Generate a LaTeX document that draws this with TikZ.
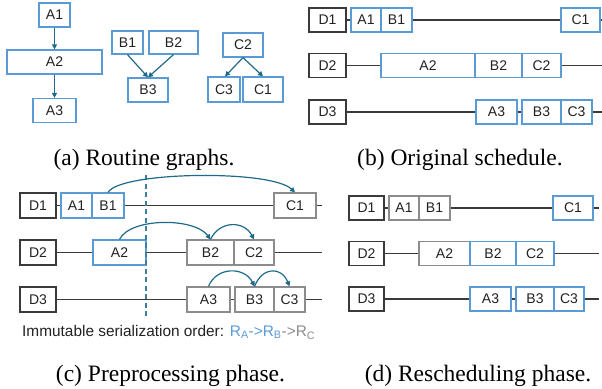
\documentclass[tikz,border=0pt]{standalone}
\usepackage{fontspec}
\setmainfont{Liberation Serif}
\setsansfont{Liberation Sans}
\usetikzlibrary{arrows.meta}
\definecolor{boxblue}{HTML}{5B9BD5}
\definecolor{boxgray}{HTML}{8C8C8C}
\definecolor{boxdark}{HTML}{3A3A3A}
\definecolor{txt}{HTML}{222222}
\definecolor{arrowteal}{HTML}{1F6A8A}
\definecolor{cutline}{HTML}{3C7E9C}
\tikzset{
  task/.style={draw, line width=1.2pt, inner sep=0pt, minimum height=24pt,
    font=\sffamily\fontsize{14}{14}\selectfont, text=txt},
  bluebox/.style={task, draw=boxblue},
  graybox/.style={task, draw=boxgray},
  devbox/.style={task, draw=boxdark},
  timeline/.style={draw=boxdark, line width=1.2pt},
  dep/.style={draw=arrowteal, line width=1.2pt, -{Triangle[length=5pt,width=5pt]}},
  caption/.style={font=\fontsize{23.5}{24}\selectfont, anchor=base, inner sep=0pt},
}
\begin{document}
\begin{tikzpicture}[x=1pt, y=-1pt]
\useasboundingbox (0,0) rectangle (602,388);

% ---------- (a) routine graphs ----------
\node[bluebox, minimum width=31pt] (ga1) at (54.5,15) {A1};
\node[bluebox, minimum width=95pt] (ga2) at (54.5,62) {A2};
\node[bluebox, minimum width=43pt] (ga3) at (54.5,110.5) {A3};
\draw[dep] (ga1) -- (ga2);
\draw[dep] (ga2) -- (ga3);

\node[bluebox, minimum width=31pt, minimum height=23pt] (gb1) at (127.5,42.5) {B1};
\node[bluebox, minimum width=49pt, minimum height=23pt] (gb2) at (173.5,42.5) {B2};
\node[bluebox, minimum width=40pt] (gb3) at (148,90) {B3};
\draw[dep] (gb1.south) -- (gb3.north);
\draw[dep] (gb2.south) -- (gb3.north);

\node[bluebox, minimum width=40pt] (gc2) at (243,45) {C2};
\node[bluebox, minimum width=32pt, minimum height=25pt] (gc3) at (224,89.5) {C3};
\node[bluebox, minimum width=40pt, minimum height=25pt] (gc1) at (263,89.5) {C1};
\draw[dep] (gc2.south) -- ([xshift=1pt]gc3.north);
\draw[dep] (gc2.south) -- (gc1.north);

\node[caption] (capa) at (144,165) {(a) Routine graphs.};

% ---------- (b) original schedule ----------
\node[devbox, minimum width=37pt] (bd1) at (327.5,20) {D1};
\node[bluebox, minimum width=30pt] (ba1) at (366,20) {A1};
\node[bluebox, minimum width=31pt] (bb1) at (396.5,20) {B1};
\node[bluebox, minimum width=39pt] (bc1) at (580.5,20) {C1};
\coordinate (bend1) at (603,20);
\draw[timeline] (bd1) -- (ba1);
\draw[timeline] (bb1) -- (bc1);
\draw[timeline] (bc1) -- (bend1);

\node[devbox, minimum width=37pt] (bd2) at (327.5,65.5) {D2};
\node[bluebox, minimum width=94pt] (ba2) at (428,65.5) {A2};
\node[bluebox, minimum width=47pt] (bb2) at (498.5,65.5) {B2};
\node[bluebox, minimum width=39pt] (bc2) at (541.5,65.5) {C2};
\coordinate (bend2) at (603,65.5);
\draw[timeline] (bd2) -- (ba2);
\draw[timeline] (bc2) -- (bend2);

\node[devbox, minimum width=37pt] (bd3) at (327.5,112) {D3};
\node[bluebox, minimum width=41pt] (ba3) at (496.5,112) {A3};
\node[bluebox, minimum width=39pt] (bb3) at (541.5,112) {B3};
\node[bluebox, minimum width=31pt] (bc3) at (576.5,112) {C3};
\coordinate (bend3) at (603,112);
\draw[timeline] (bd3) -- (ba3);
\draw[timeline] (ba3) -- (bb3);
\draw[timeline] (bc3) -- (bend3);

\node[caption] (capb) at (460,165) {(b) Original schedule.};

% ---------- (c) preprocessing phase ----------
\node[devbox, minimum width=36pt, minimum height=25pt] (cd1) at (38,205.5) {D1};
\node[bluebox, minimum width=31pt, minimum height=25pt] (ca1) at (76.5,205.5) {A1};
\node[bluebox, minimum width=32pt, minimum height=25pt] (cb1) at (108,205.5) {B1};
\node[graybox, minimum width=42pt, minimum height=25pt] (cc1) at (295,205.5) {C1};
\coordinate (cend1) at (322,205.5);
\draw[timeline] (cd1) -- (ca1);
\draw[timeline] (cb1) -- (cc1);
\draw[timeline] (cc1) -- (cend1);

\node[devbox, minimum width=36pt, minimum height=25pt] (cd2) at (38,252.5) {D2};
\node[bluebox, minimum width=53pt, minimum height=25pt] (ca2) at (119.5,252.5) {A2};
\node[graybox, minimum width=47pt, minimum height=25pt] (cb2) at (210.5,252.5) {B2};
\node[graybox, minimum width=40pt, minimum height=25pt] (cc2) at (254,252.5) {C2};
\coordinate (cend2) at (322,252.5);
\draw[timeline] (cd2) -- (ca2);
\draw[timeline] (ca2) -- (cb2);
\draw[timeline] (cc2) -- (cend2);

\node[devbox, minimum width=36pt, minimum height=25pt] (cd3) at (38,299.5) {D3};
\node[graybox, minimum width=43pt, minimum height=25pt] (ca3) at (208.5,299.5) {A3};
\node[graybox, minimum width=39pt, minimum height=25pt] (cb3) at (254.5,299.5) {B3};
\node[graybox, minimum width=31pt, minimum height=25pt] (cc3) at (289.5,299.5) {C3};
\coordinate (cend3) at (322,299.5);
\draw[timeline] (cd3) -- (ca3);
\draw[timeline] (ca3) -- (cb3);
\draw[timeline] (cc3) -- (cend3);

% cut separating the already-placed prefix
\coordinate (cuttop) at (146,175);
\coordinate (cutbot) at (146,317);
\draw[cutline, line width=1.3pt, dash pattern=on 5pt off 3.5pt] (cuttop) -- (cutbot);

% serialization dependencies
\draw[dep] (cb1.north) .. controls +(12,-21) and +(-24,-23) .. (cc1.north);
\draw[dep] (ca2.north) .. controls +(11,-22) and +(-16,-22) .. (cb2.north);
\draw[dep] (cb2.north) .. controls +(9,-19) and +(-10,-19) .. (cc2.north);
\draw[dep] (ca3.north) .. controls +(8,-20) and +(-10,-20) .. (cb3.north);
\draw[dep] (cb3.north) .. controls +(8,-20) and +(-8,-20) .. (cc3.north);

\node[anchor=base west, inner sep=0pt, font=\sffamily\fontsize{15.4}{16}\selectfont, text=txt] (order) at (22,336.5)
  {Immutable serialization order: \textcolor{boxblue}{R\textsubscript{A}->R\textsubscript{B}}\textcolor{boxgray}{->R\textsubscript{C}}};

\node[caption] (capc) at (170.5,381) {(c) Preprocessing phase.};

% ---------- (d) rescheduling phase ----------
\node[devbox, minimum width=35pt] (dd1) at (366.5,208) {D1};
\node[graybox, minimum width=30pt] (da1) at (404,208) {A1};
\node[graybox, minimum width=31pt] (db1) at (434.5,208) {B1};
\node[bluebox, minimum width=40pt] (dc1) at (573,208) {C1};
\coordinate (dend1) at (599,208);
\draw[timeline] (dd1) -- (da1);
\draw[timeline] (db1) -- (dc1);
\draw[timeline] (dc1) -- (dend1);

\node[devbox, minimum width=35pt] (dd2) at (366.5,253.5) {D2};
\node[graybox, minimum width=51pt] (da2) at (444.5,253.5) {A2};
\node[bluebox, minimum width=46pt] (db2) at (493,253.5) {B2};
\node[bluebox, minimum width=38pt] (dc2) at (535,253.5) {C2};
\coordinate (dend2) at (599,253.5);
\draw[timeline] (dd2) -- (da2);
\draw[timeline] (dc2) -- (dend2);

\node[devbox, minimum width=35pt] (dd3) at (366.5,299) {D3};
\node[bluebox, minimum width=41pt] (da3) at (490.5,299) {A3};
\node[bluebox, minimum width=38pt] (db3) at (535,299) {B3};
\node[bluebox, minimum width=30pt] (dc3) at (569,299) {C3};
\coordinate (dend3) at (599,299);
\draw[timeline] (dd3) -- (da3);
\draw[timeline] (da3) -- (db3);
\draw[timeline] (dc3) -- (dend3);

\node[caption] (capd) at (478,381) {(d) Rescheduling phase.};
\end{tikzpicture}
\end{document}
